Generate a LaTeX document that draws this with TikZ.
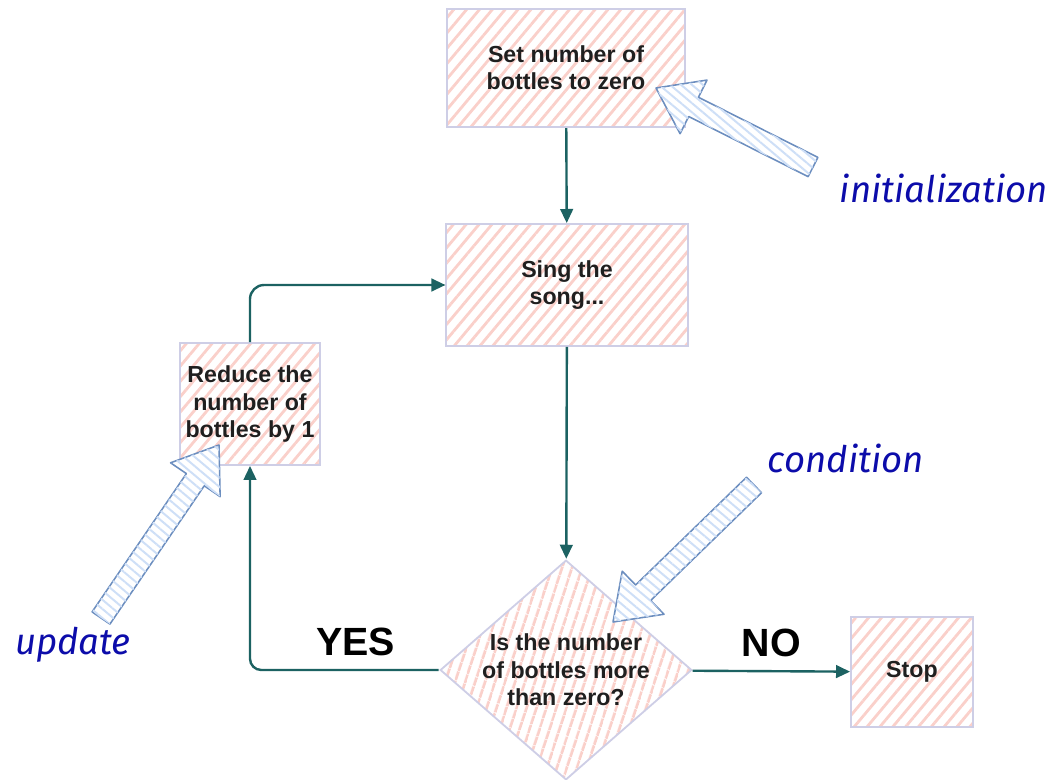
\documentclass[tikz,border=0pt]{standalone}
\usepackage{fontspec}
\setmainfont{Liberation Sans}
\newfontfamily\handfont{Fira Sans}
\usetikzlibrary{shapes.geometric,patterns.meta,arrows.meta,calc}

\definecolor{flowteal}{RGB}{28,98,98}
\definecolor{hatchpink}{RGB}{250,208,202}
\definecolor{boxline}{RGB}{206,206,230}
\definecolor{hintline}{RGB}{108,142,191}
\definecolor{hintfill}{RGB}{206,223,247}
\definecolor{notetext}{RGB}{12,12,170}

\tikzset{%
  stepbox/.style={rectangle, draw=boxline, line width=1.3pt,%
    pattern={Lines[angle=50,distance=7pt,line width=2pt]}, pattern color=hatchpink,%
    font=\bfseries\fontsize{16.5}{19.5}\selectfont, align=center, text=black!88},%
  decision/.style={diamond, draw=boxline, line width=1.3pt, inner sep=0pt,%
    pattern={Lines[angle=72,distance=6.5pt,line width=2pt]}, pattern color=hatchpink},%
  flow/.style={draw=flowteal, line width=1.7pt, -{Triangle[length=10pt,width=9pt]}},%
  answer/.style={font=\bfseries\fontsize{28}{30}\selectfont},%
  hint/.style={draw=hintline, line width=1.1pt, line join=round, fill=white,%
    postaction={pattern={Lines[angle=-40,distance=5pt,line width=1.4pt]}, pattern color=hintfill}},%
  note/.style={font=\handfont\itshape\fontsize{26}{28}\selectfont, text=notetext},%
}

\begin{document}
\begin{tikzpicture}[x=0.025cm,y=-0.025cm]%
\useasboundingbox (0,0) rectangle (1062,780);%

% flow chart boxes
\node[stepbox, minimum width=5.95cm, minimum height=2.93cm] (setzero) at (566,68) {Set number of\\bottles to zero};%
\node[stepbox, minimum width=6.03cm, minimum height=3.05cm] (sing) at (567,285) {Sing the\\song...};%
\node[stepbox, minimum width=3.5cm, minimum height=3.05cm] (reduce) at (250,404) {Reduce the\\number of\\bottles by 1};%
\node[decision, minimum width=6.3cm, minimum height=5.5cm] (cond) at (566,670) {};%
\node[stepbox, draw=none, pattern=none] (condtext) at (cond) {Is the number\\of bottles more\\than zero?};%
\node[stepbox, minimum width=3.05cm, minimum height=2.75cm] (stop) at (912,672) {Stop};%

% connectors
\draw[flow] (setzero) -- (sing);%
\draw[flow] (sing) -- (cond);%
\draw[flow] (cond) -- (stop) node[answer, midway, above=6pt] (no) {NO};%
\draw[flow, rounded corners=8pt] (cond.west) -| (reduce.south) node[answer, pos=0.22, above=6pt] (yes) {YES};%
\draw[flow, rounded corners=10pt] (reduce.north) |- (sing.west);%

% hollow pointer arrows
\def\shaft{0.27cm}%
\def\head{0.75cm}%
\def\headlen{1.05cm}%
%
\coordinate (initTail) at (813,167);%
\coordinate (initTip) at (656,88);%
\def\tail{initTail};%
\def\tip{initTip};%
\coordinate (neck) at ($(\tip)!\headlen!(\tail)$);%
\draw[hint] ($(\tail)!\shaft!90:(\tip)$) -- ($(neck)!\shaft!90:(\tip)$) -- ($(neck)!\head!90:(\tip)$) -- (\tip)%
  -- ($(neck)!\head!-90:(\tip)$) -- ($(neck)!\shaft!-90:(\tip)$) -- ($(\tail)!\shaft!-90:(\tip)$) -- cycle;%
%
\coordinate (condTail) at (754,485);%
\coordinate (condTip) at (613,622);%
\def\tail{condTail};%
\def\tip{condTip};%
\coordinate (neck) at ($(\tip)!\headlen!(\tail)$);%
\draw[hint] ($(\tail)!\shaft!90:(\tip)$) -- ($(neck)!\shaft!90:(\tip)$) -- ($(neck)!\head!90:(\tip)$) -- (\tip)%
  -- ($(neck)!\head!-90:(\tip)$) -- ($(neck)!\shaft!-90:(\tip)$) -- ($(\tail)!\shaft!-90:(\tip)$) -- cycle;%
%
\coordinate (updTail) at (101,618);%
\coordinate (updTip) at (219,445);%
\def\tail{updTail};%
\def\tip{updTip};%
\coordinate (neck) at ($(\tip)!\headlen!(\tail)$);%
\draw[hint] ($(\tail)!\shaft!90:(\tip)$) -- ($(neck)!\shaft!90:(\tip)$) -- ($(neck)!\head!90:(\tip)$) -- (\tip)%
  -- ($(neck)!\head!-90:(\tip)$) -- ($(neck)!\shaft!-90:(\tip)$) -- ($(\tail)!\shaft!-90:(\tip)$) -- cycle;%

% notes
\node[note] (initnote) at (944,188) {initialization};%
\node[note] (condnote) at (846,458) {condition};%
\node[note] (updnote) at (73,645) {update};%

\end{tikzpicture}
\end{document}
